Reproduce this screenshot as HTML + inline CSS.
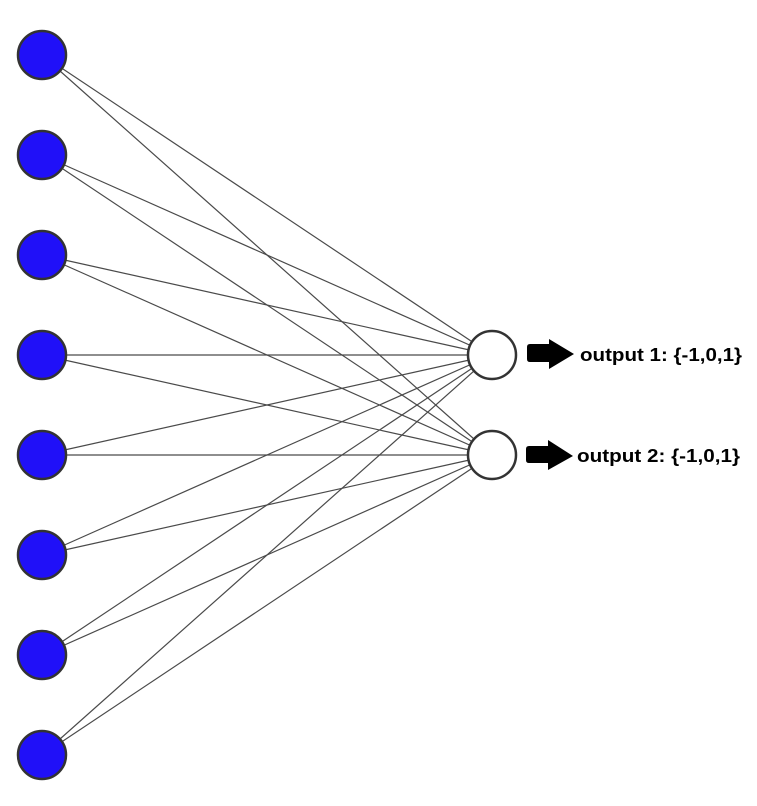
<!DOCTYPE html>
<html><head><meta charset="utf-8"><style>
html,body{margin:0;padding:0;background:#fff;}
svg{display:block;}
</style></head><body>
<svg width="757" height="806" viewBox="0 0 757 806" xmlns="http://www.w3.org/2000/svg">
<g stroke="#4a4a4a" stroke-width="1.2">
<line x1="42" y1="55" x2="492" y2="355"/><line x1="42" y1="55" x2="492" y2="455"/>
<line x1="42" y1="155" x2="492" y2="355"/><line x1="42" y1="155" x2="492" y2="455"/>
<line x1="42" y1="255" x2="492" y2="355"/><line x1="42" y1="255" x2="492" y2="455"/>
<line x1="42" y1="355" x2="492" y2="355"/><line x1="42" y1="355" x2="492" y2="455"/>
<line x1="42" y1="455" x2="492" y2="355"/><line x1="42" y1="455" x2="492" y2="455"/>
<line x1="42" y1="555" x2="492" y2="355"/><line x1="42" y1="555" x2="492" y2="455"/>
<line x1="42" y1="655" x2="492" y2="355"/><line x1="42" y1="655" x2="492" y2="455"/>
<line x1="42" y1="755" x2="492" y2="355"/><line x1="42" y1="755" x2="492" y2="455"/>
</g>
<g fill="#2010f8" stroke="#333" stroke-width="2.5">
<circle cx="42" cy="55" r="24"/><circle cx="42" cy="155" r="24"/>
<circle cx="42" cy="255" r="24"/><circle cx="42" cy="355" r="24"/>
<circle cx="42" cy="455" r="24"/><circle cx="42" cy="555" r="24"/>
<circle cx="42" cy="655" r="24"/><circle cx="42" cy="755" r="24"/>
</g>
<g fill="#fff" stroke="#333" stroke-width="2.5">
<circle cx="492" cy="355" r="24"/><circle cx="492" cy="455" r="24"/>
</g>
<path d="M530,344 H549 V339 L574,354 L549,369 V362 H530 Q527,362 527,359 V347 Q527,344 530,344 Z" fill="#000"/>
<path d="M529,446 H548 V440 L573,456 L548,470 V463 H529 Q526,463 526,460 V449 Q526,446 529,446 Z" fill="#000"/>
<g font-family="Liberation Sans, sans-serif" font-weight="bold" font-size="18" fill="#000">
<text x="580" y="361" textLength="162" lengthAdjust="spacingAndGlyphs">output 1: {-1,0,1}</text>
<text x="577" y="462" textLength="163" lengthAdjust="spacingAndGlyphs">output 2: {-1,0,1}</text>
</g>
</svg>
</body></html>
